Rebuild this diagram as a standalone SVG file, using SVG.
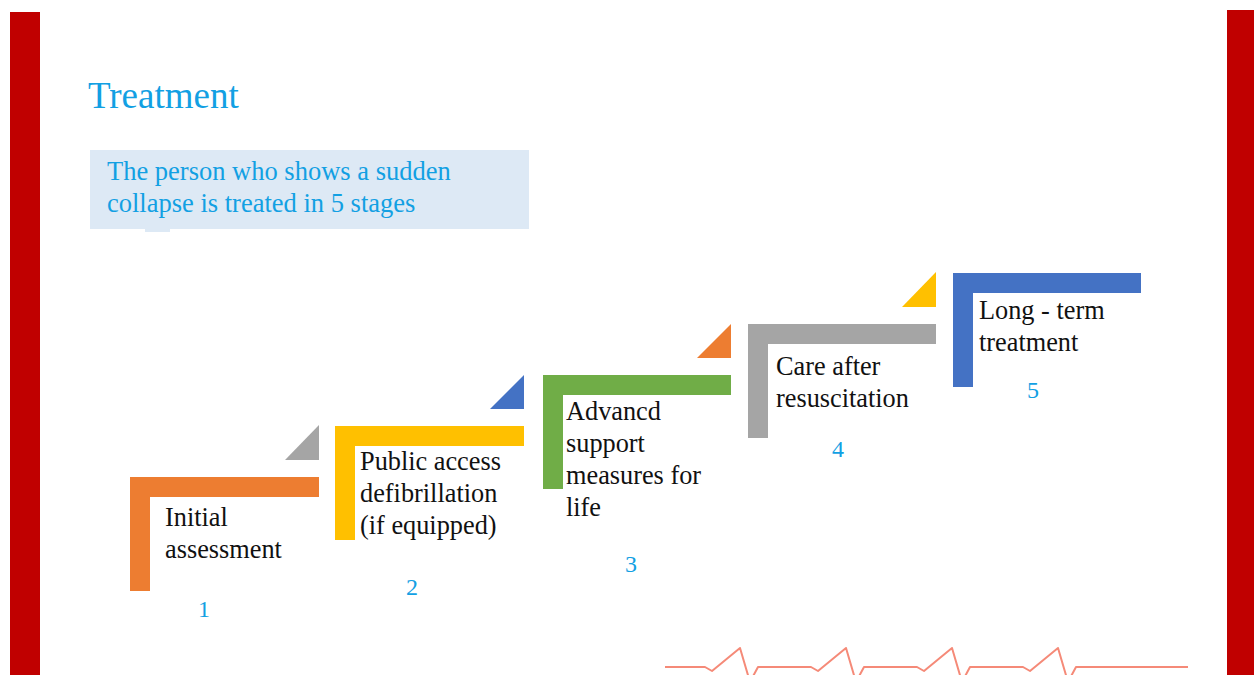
<svg xmlns="http://www.w3.org/2000/svg" width="1254" height="675" viewBox="0 0 1254 675">
<style>
.lbl{font-family:"Liberation Serif",serif;font-size:26.3px;fill:#111}
.num{font-family:"Liberation Serif",serif;font-size:24px;fill:#12a0e3}
.blue{font-family:"Liberation Serif",serif;fill:#12a0e3}
.bar{fill:#c00000}
</style>
<rect width="1254" height="675" fill="#ffffff"/>
<rect class="bar" x="10" y="12" width="30" height="663"/>
<rect class="bar" x="1227" y="10" width="27" height="665"/>
<text class="blue" x="88" y="108" font-size="37">Treatment</text>
<g id="intro">
<rect x="90" y="150" width="439" height="79" fill="#dde9f5"/>
<rect x="145" y="229" width="25" height="3" fill="#dde9f5"/>
<text class="blue" font-size="26.5"><tspan x="107" y="180">The person who shows a sudden</tspan><tspan x="107" y="212">collapse is treated in 5 stages</tspan></text>
</g>
<g id="step1">
<path d="M130,477 H319 V497 H150 V591 H130 Z" fill="#ed7d31"/>
<polygon points="285,460 319,460 319,425" fill="#a5a5a5"/>
<text class="lbl"><tspan x="165" y="526">Initial</tspan><tspan x="165" y="558">assessment</tspan></text>
<text class="num" x="198" y="617">1</text>
</g>
<g id="step2">
<path d="M335,426 H524 V446 H355 V540 H335 Z" fill="#ffc000"/>
<polygon points="490,409 524,409 524,375" fill="#4472c4"/>
<text class="lbl"><tspan x="360" y="470">Public access</tspan><tspan x="360" y="502">defibrillation</tspan><tspan x="360" y="534">(if equipped)</tspan></text>
<text class="num" x="406" y="595">2</text>
</g>
<g id="step3">
<path d="M543,375 H731 V395 H563 V489 H543 Z" fill="#70ad47"/>
<polygon points="697,358 731,358 731,324" fill="#ed7d31"/>
<text class="lbl"><tspan x="566" y="420">Advancd</tspan><tspan x="566" y="452">support</tspan><tspan x="566" y="484">measures for</tspan><tspan x="566" y="516">life</tspan></text>
<text class="num" x="625" y="572">3</text>
</g>
<g id="step4">
<path d="M748,324 H936 V344 H768 V438 H748 Z" fill="#a5a5a5"/>
<polygon points="902,307 936,307 936,272" fill="#ffc000"/>
<text class="lbl"><tspan x="776" y="375">Care after</tspan><tspan x="776" y="407">resuscitation</tspan></text>
<text class="num" x="832" y="457">4</text>
</g>
<g id="step5">
<path d="M953,273 H1141 V293 H973 V387 H953 Z" fill="#4472c4"/>
<text class="lbl"><tspan x="979" y="319">Long - term</tspan><tspan x="979" y="351">treatment</tspan></text>
<text class="num" x="1027" y="398">5</text>
</g>
<g id="connectors">
<path d="M665,667 H705 L712,671 L740,648 L750,682 L758,667 H811 L818,671 L846,648 L856,682 L864,667 H917 L924,671 L952,648 L962,682 L970,667 H1023 L1030,671 L1058,648 L1068,682 L1076,667 H1188" fill="none" stroke="#f58a78" stroke-width="2" stroke-linejoin="round"/>
</g>
</svg>
